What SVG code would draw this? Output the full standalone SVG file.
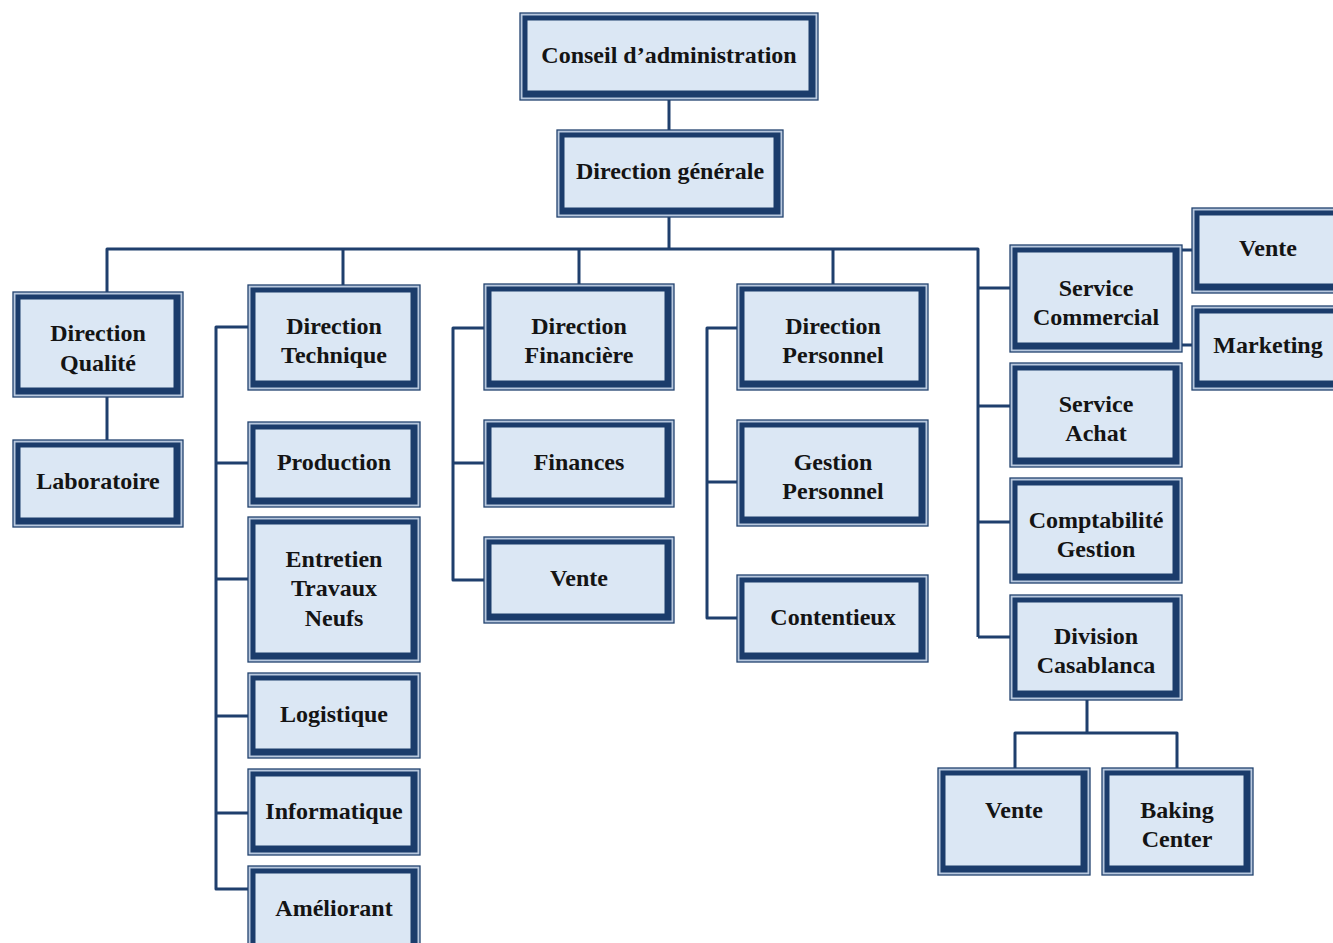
<svg xmlns="http://www.w3.org/2000/svg" width="1333" height="943" viewBox="0 0 1333 943">
<style>
.o{fill:#b8c8de;stroke:#22426f;stroke-width:1.3}
.b{fill:#1b3c6b}
.f{fill:#dbe7f4}
.t{font-family:"Liberation Serif","Times New Roman",serif;font-weight:bold;font-size:24px;fill:#141414;text-anchor:middle}
.c{fill:none;stroke:#1f3f6d;stroke-width:3;stroke-linejoin:round}
</style>
<rect width="1333" height="943" fill="#ffffff"/>
<g id="connectors" class="c">
<path d="M669,100V130"/>
<path d="M669,217V249"/>
<path d="M107,292V249H978V637"/>
<path d="M343,249V285"/>
<path d="M579,249V284"/>
<path d="M833,249V284"/>
<path d="M978,288H1010M978,406H1010M978,522H1010M978,637H1010"/>
<path d="M107,397V440"/>
<path d="M248,327H216V889H248M216,463H248M216,579H248M216,716H248M216,813H248"/>
<path d="M484,328H453V580H484M453,463H484"/>
<path d="M737,328H707V618H737M707,482H737"/>
<path d="M1180,250H1192M1180,345H1192"/>
<path d="M1087,700V733M1015,768V733H1177V768"/>
</g>
<g id="n-conseil"><rect class="o" x="520" y="13" width="298" height="87"/><rect class="b" x="522.5" y="15.5" width="293" height="82"/><rect class="f" x="527.5" y="20.5" width="281" height="70"/><text class="t" x="669" y="63">Conseil d’administration</text></g>
<g id="n-dg"><rect class="o" x="557" y="130" width="226" height="87"/><rect class="b" x="559.5" y="132.5" width="221" height="82"/><rect class="f" x="564.5" y="137.5" width="209" height="70"/><text class="t" x="670" y="179">Direction générale</text></g>
<g id="n-dq"><rect class="o" x="13" y="292" width="170" height="105"/><rect class="b" x="15.5" y="294.5" width="165" height="100"/><rect class="f" x="20.5" y="299.5" width="153" height="88"/><text class="t" x="98" y="341">Direction</text><text class="t" x="98" y="371">Qualité</text></g>
<g id="n-labo"><rect class="o" x="13" y="440" width="170" height="87"/><rect class="b" x="15.5" y="442.5" width="165" height="82"/><rect class="f" x="20.5" y="447.5" width="153" height="70"/><text class="t" x="98" y="489">Laboratoire</text></g>
<g id="n-dt"><rect class="o" x="248" y="285" width="172" height="105"/><rect class="b" x="250.5" y="287.5" width="167" height="100"/><rect class="f" x="255.5" y="292.5" width="155" height="88"/><text class="t" x="334" y="334">Direction</text><text class="t" x="334" y="363">Technique</text></g>
<g id="n-prod"><rect class="o" x="248" y="422" width="172" height="85"/><rect class="b" x="250.5" y="424.5" width="167" height="80"/><rect class="f" x="255.5" y="429.5" width="155" height="68"/><text class="t" x="334" y="470">Production</text></g>
<g id="n-entretien"><rect class="o" x="248" y="517" width="172" height="145"/><rect class="b" x="250.5" y="519.5" width="167" height="140"/><rect class="f" x="255.5" y="524.5" width="155" height="128"/><text class="t" x="334" y="567">Entretien</text><text class="t" x="334" y="596">Travaux</text><text class="t" x="334" y="626">Neufs</text></g>
<g id="n-logistique"><rect class="o" x="248" y="673" width="172" height="85"/><rect class="b" x="250.5" y="675.5" width="167" height="80"/><rect class="f" x="255.5" y="680.5" width="155" height="68"/><text class="t" x="334" y="722">Logistique</text></g>
<g id="n-informatique"><rect class="o" x="248" y="769" width="172" height="86"/><rect class="b" x="250.5" y="771.5" width="167" height="81"/><rect class="f" x="255.5" y="776.5" width="155" height="69"/><text class="t" x="334" y="819">Informatique</text></g>
<g id="n-ameliorant"><rect class="o" x="248" y="866" width="172" height="90"/><rect class="b" x="250.5" y="868.5" width="167" height="85"/><rect class="f" x="255.5" y="873.5" width="155" height="73"/><text class="t" x="334" y="916">Améliorant</text></g>
<g id="n-dfin"><rect class="o" x="484" y="284" width="190" height="106"/><rect class="b" x="486.5" y="286.5" width="185" height="101"/><rect class="f" x="491.5" y="291.5" width="173" height="89"/><text class="t" x="579" y="334">Direction</text><text class="t" x="579" y="363">Financière</text></g>
<g id="n-finances"><rect class="o" x="484" y="420" width="190" height="87"/><rect class="b" x="486.5" y="422.5" width="185" height="82"/><rect class="f" x="491.5" y="427.5" width="173" height="70"/><text class="t" x="579" y="470">Finances</text></g>
<g id="n-vente1"><rect class="o" x="484" y="537" width="190" height="86"/><rect class="b" x="486.5" y="539.5" width="185" height="81"/><rect class="f" x="491.5" y="544.5" width="173" height="69"/><text class="t" x="579" y="586">Vente</text></g>
<g id="n-dpers"><rect class="o" x="737" y="284" width="191" height="106"/><rect class="b" x="739.5" y="286.5" width="186" height="101"/><rect class="f" x="744.5" y="291.5" width="174" height="89"/><text class="t" x="833" y="334">Direction</text><text class="t" x="833" y="363">Personnel</text></g>
<g id="n-gestion"><rect class="o" x="737" y="420" width="191" height="106"/><rect class="b" x="739.5" y="422.5" width="186" height="101"/><rect class="f" x="744.5" y="427.5" width="174" height="89"/><text class="t" x="833" y="470">Gestion</text><text class="t" x="833" y="499">Personnel</text></g>
<g id="n-contentieux"><rect class="o" x="737" y="575" width="191" height="87"/><rect class="b" x="739.5" y="577.5" width="186" height="82"/><rect class="f" x="744.5" y="582.5" width="174" height="70"/><text class="t" x="833" y="625">Contentieux</text></g>
<g id="n-scom"><rect class="o" x="1010" y="245" width="172" height="107"/><rect class="b" x="1012.5" y="247.5" width="167" height="102"/><rect class="f" x="1017.5" y="252.5" width="155" height="90"/><text class="t" x="1096" y="296">Service</text><text class="t" x="1096" y="325">Commercial</text></g>
<g id="n-vente2"><rect class="o" x="1192" y="208" width="152" height="85"/><rect class="b" x="1194.5" y="210.5" width="147" height="80"/><rect class="f" x="1199.5" y="215.5" width="135" height="68"/><text class="t" x="1268" y="256">Vente</text></g>
<g id="n-marketing"><rect class="o" x="1192" y="306" width="152" height="84"/><rect class="b" x="1194.5" y="308.5" width="147" height="79"/><rect class="f" x="1199.5" y="313.5" width="135" height="67"/><text class="t" x="1268" y="353">Marketing</text></g>
<g id="n-sachat"><rect class="o" x="1010" y="363" width="172" height="104"/><rect class="b" x="1012.5" y="365.5" width="167" height="99"/><rect class="f" x="1017.5" y="370.5" width="155" height="87"/><text class="t" x="1096" y="412">Service</text><text class="t" x="1096" y="441">Achat</text></g>
<g id="n-compta"><rect class="o" x="1010" y="478" width="172" height="105"/><rect class="b" x="1012.5" y="480.5" width="167" height="100"/><rect class="f" x="1017.5" y="485.5" width="155" height="88"/><text class="t" x="1096" y="528">Comptabilité</text><text class="t" x="1096" y="557">Gestion</text></g>
<g id="n-divcasa"><rect class="o" x="1010" y="595" width="172" height="105"/><rect class="b" x="1012.5" y="597.5" width="167" height="100"/><rect class="f" x="1017.5" y="602.5" width="155" height="88"/><text class="t" x="1096" y="644">Division</text><text class="t" x="1096" y="673">Casablanca</text></g>
<g id="n-vente3"><rect class="o" x="938" y="768" width="152" height="107"/><rect class="b" x="940.5" y="770.5" width="147" height="102"/><rect class="f" x="945.5" y="775.5" width="135" height="90"/><text class="t" x="1014" y="818">Vente</text></g>
<g id="n-baking"><rect class="o" x="1102" y="768" width="151" height="107"/><rect class="b" x="1104.5" y="770.5" width="146" height="102"/><rect class="f" x="1109.5" y="775.5" width="134" height="90"/><text class="t" x="1177" y="818">Baking</text><text class="t" x="1177" y="847">Center</text></g>
</svg>
